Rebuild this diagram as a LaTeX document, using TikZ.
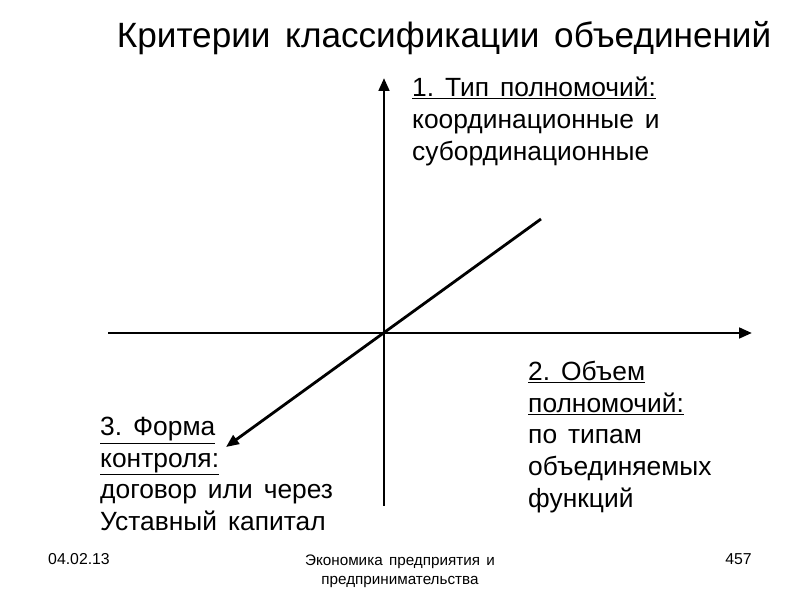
\documentclass[tikz,border=0pt]{standalone}
\usepackage{fontspec}
\setmainfont{Liberation Sans}[WordSpace=1.5]
\usetikzlibrary{arrows.meta}
\frenchspacing
\begin{document}
\begin{tikzpicture}[x=0.03cm, y=-0.03cm,
    eje/.style={line width=2.4pt, -{Triangle[length=11pt, width=9pt]}},
    bloque/.style={anchor=north west, align=left, inner sep=0pt, font=\fontsize{22.5}{27}\selectfont},
    pie/.style={inner sep=0pt, font=\fontsize{13.5}{14.5}\selectfont}]

    % Marco de la diapositiva
    \useasboundingbox (0,0) rectangle (800,600);

    % Título
    \node[anchor=base, inner sep=0pt, font=\fontsize{30}{34}\selectfont] (titulo) at (444, 48) {Критерии классификации объединений};

    % Extremos de los ejes
    \coordinate (vabajo) at (384, 506);
    \coordinate (varriba) at (384, 78);
    \coordinate (hizq) at (108, 333);
    \coordinate (hder) at (752, 333);
    \coordinate (darriba) at (541, 219);
    \coordinate (dabajo) at (226, 447);

    % Ejes con flechas
    \draw[eje] (vabajo) -- (varriba);
    \draw[eje] (hizq) -- (hder);
    \draw[eje] (darriba) -- (dabajo);

    % Etiquetas de los criterios
    \node[bloque] (tipo) at (412, 77) {\underline{1. Тип полномочий:}\\координационные и\\субординационные};
    \node[bloque] (objem) at (528, 361) {\underline{2. Объем}\\\underline{полномочий:}\\по типам\\объединяемых\\функций};
    \node[bloque] (forma) at (100, 417) {\underline{3. Форма}\\\underline{контроля:}\\договор или через\\Уставный капитал};

    % Pie de página
    \node[pie, anchor=base west] (fecha) at (48, 565) {04.02.13};
    \node[pie, anchor=base, align=center, font=\fontsize{13}{17}\selectfont] (curso) at (400, 585) {Экономика предприятия и\\предпринимательства};
    \node[pie, anchor=base east] (pagina) at (752, 565) {457};

\end{tikzpicture}
\end{document}
